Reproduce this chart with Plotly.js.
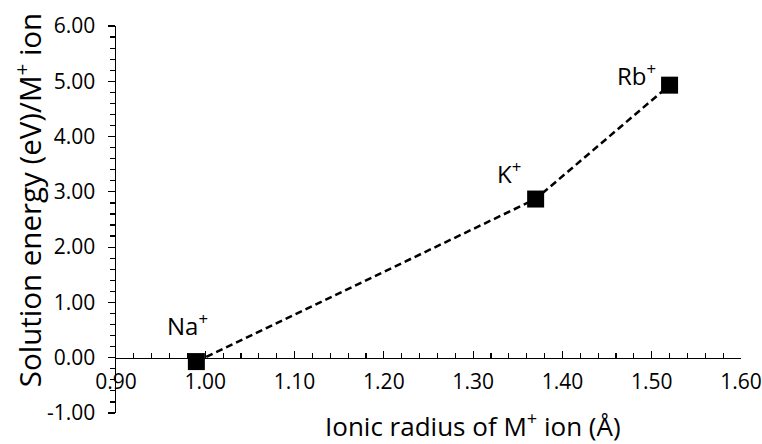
<!DOCTYPE html>
<html>
<head>
<meta charset="utf-8">
<script src="https://cdn.plot.ly/plotly-3.0.1.min.js"></script>
<style>html,body{margin:0;padding:0;background:#fff;}#chart{width:762px;height:444px;}</style>
</head>
<body>
<div id="chart"></div>
<script>
// Data
var ions = ['Na<sup>+</sup>', 'K<sup>+</sup>', 'Rb<sup>+</sup>'];
var ionicRadius = [0.99, 1.37, 1.52];
var solutionEnergy = [-0.07, 2.87, 4.93];
var xTickVals = [0.9, 1.0, 1.1, 1.2, 1.3, 1.4, 1.5, 1.6];
var xTickText = ['0.90', '1.00', '1.10', '1.20', '1.30', '1.40', '1.50', '1.60'];
var yTickVals = [-1, 0, 1, 2, 3, 4, 5, 6];
var yTickText = ['-1.00', '0.00', '1.00', '2.00', '3.00', '4.00', '5.00', '6.00'];
var xTitle = 'Ionic radius of M<sup>+</sup> ion (Å)';
var yTitle = 'Solution energy (eV)/M<sup>+</sup> ion';

var FONT = '"Open Sans", sans-serif';
var labelShift = [{x: -9, y: 37}, {x: -27, y: 27}, {x: -33, y: 11}];

var trace = {
  x: ionicRadius,
  y: solutionEnergy,
  mode: 'lines+markers',
  line: {color: '#000', width: 2.5, dash: '7px,4px'},
  marker: {symbol: 'square', size: 17, color: '#000'},
  showlegend: false,
  hoverinfo: 'skip',
  cliponaxis: false
};

var annotations = ions.map(function (t, i) {
  return {
    x: ionicRadius[i], y: solutionEnergy[i], xref: 'x', yref: 'y',
    text: t, showarrow: false, xshift: labelShift[i].x, yshift: labelShift[i].y,
    font: {family: FONT, size: 24, color: '#000'}
  };
});
annotations.push({
  xref: 'paper', yref: 'paper', x: 0.571, y: -0.031, xanchor: 'center', yanchor: 'middle',
  text: xTitle, showarrow: false, font: {family: FONT, size: 26, color: '#000'}
});
annotations.push({
  xref: 'paper', yref: 'paper', x: -0.1408, y: 0.55, xanchor: 'center', yanchor: 'middle',
  text: yTitle, textangle: -90, showarrow: false, font: {family: FONT, size: 29.5, color: '#000'}
});

var layout = {
  width: 762, height: 444,
  margin: {l: 116, r: 21, t: 26, b: 31},
  paper_bgcolor: '#fff', plot_bgcolor: '#fff',
  font: {family: FONT, size: 20, color: '#000'},
  xaxis: {
    range: [0.9, 1.6],
    anchor: 'free', position: 1 / 7,
    tickmode: 'array',
    tickvals: xTickVals, ticktext: xTickText,
    ticks: 'inside', ticklen: 7, tickwidth: 1.2, tickcolor: '#000',
    minor: {ticks: 'inside', dtick: 0.02, ticklen: 5, tickwidth: 1.2, tickcolor: '#000'},
    showline: true, linecolor: '#000', linewidth: 1.5,
    showgrid: false, zeroline: false,
    tickfont: {size: 21, color: '#000'},
    ticklabeloverflow: 'allow',
    ticklabelstandoff: 5
  },
  yaxis: {
    range: [-1, 6],
    tickmode: 'array',
    tickvals: yTickVals, ticktext: yTickText,
    ticks: 'outside', ticklen: 7, tickwidth: 1.2, tickcolor: '#000',
    minor: {ticks: 'outside', dtick: 0.2, ticklen: 5, tickwidth: 1.2, tickcolor: '#000'},
    showline: true, linecolor: '#000', linewidth: 1.5,
    showgrid: false, zeroline: false,
    tickfont: {size: 21, color: '#000'},
    ticklabeloverflow: 'allow',
    ticklabelstandoff: 8
  },
  annotations: annotations
};

Plotly.newPlot('chart', [trace], layout, {displayModeBar: false, staticPlot: true});
</script>
</body>
</html>
